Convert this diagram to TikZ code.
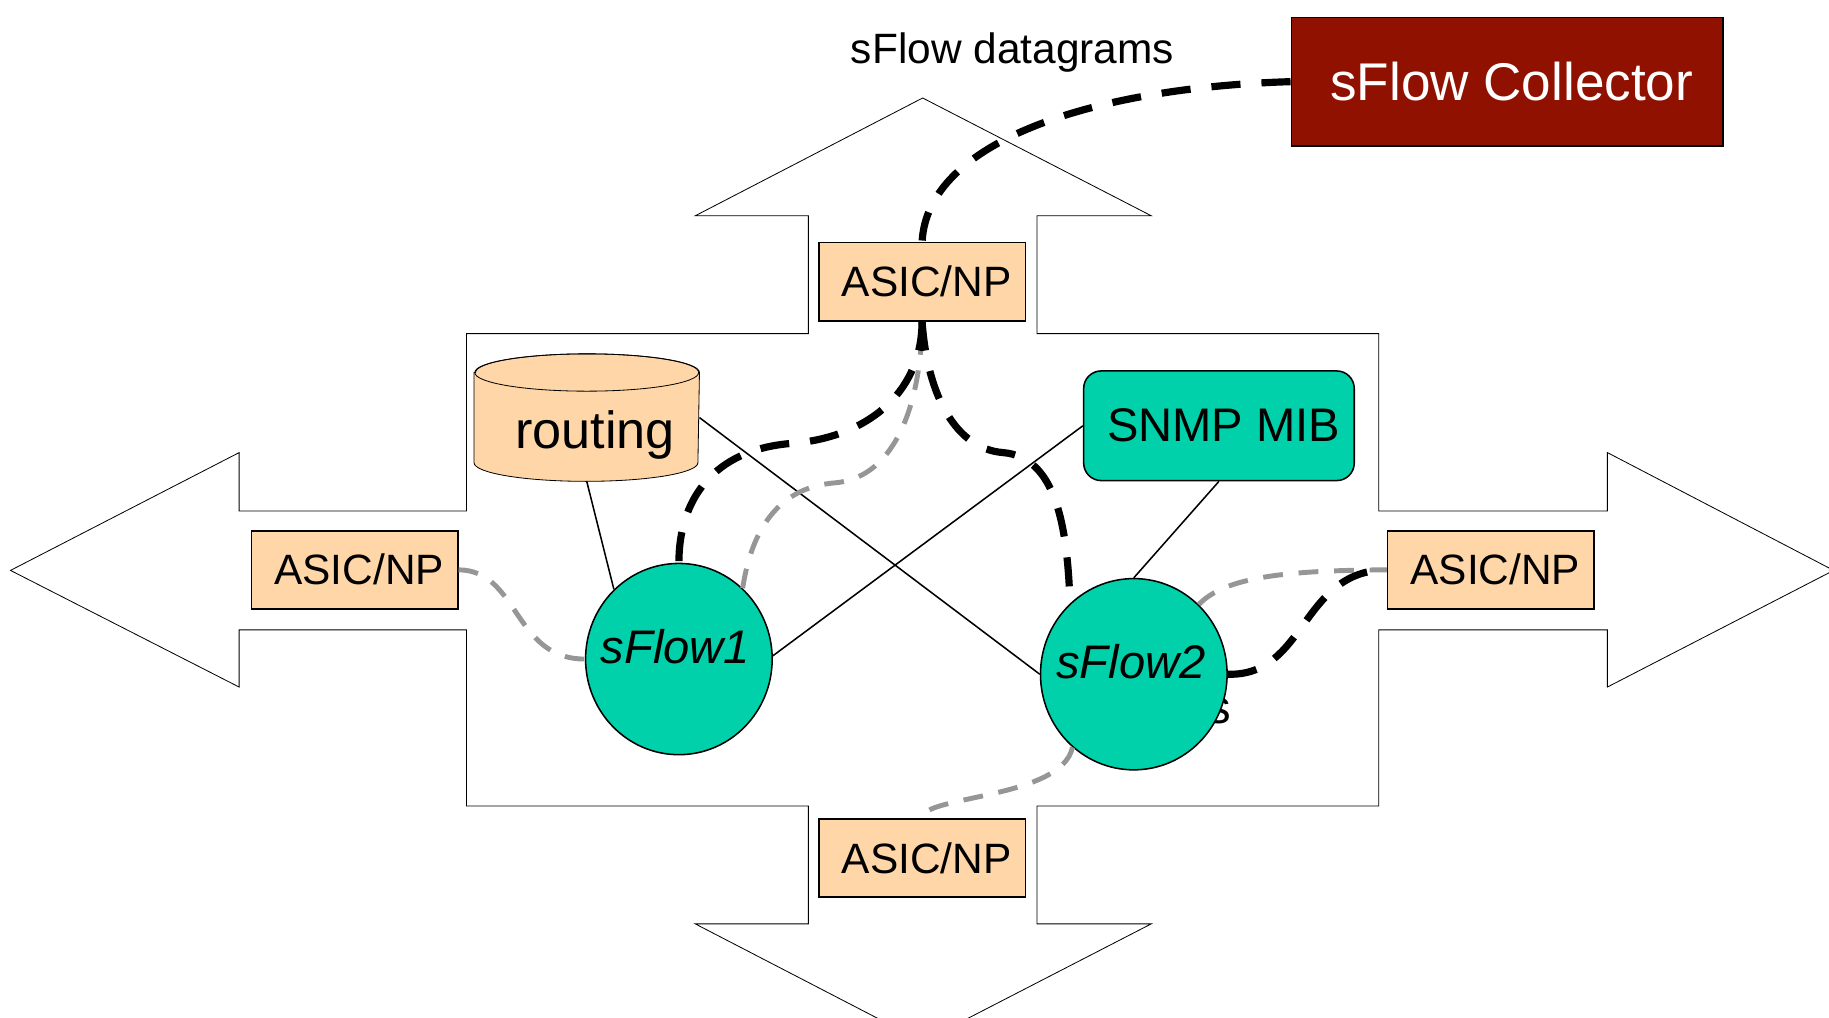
\documentclass[tikz,border=0pt]{standalone}
\usepackage{fontspec}
\setmainfont{Liberation Sans}
\usetikzlibrary{shapes.geometric, backgrounds}
\definecolor{asicpeach}{RGB}{255,214,168}
\definecolor{agentgreen}{RGB}{0,209,171}
\definecolor{collectred}{RGB}{145,17,0}
\definecolor{samplegray}{RGB}{150,150,150}

\begin{document}
\begin{tikzpicture}[x=0.02cm, y=-0.02cm, line width=0.75pt,
    asic/.style={rectangle, draw=black, fill=asicpeach, minimum width=3.54cm, minimum height=1.34cm, inner sep=0pt, font=\fontsize{20.7}{24}\selectfont},
    agent/.style={ellipse, draw=black, fill=agentgreen, minimum width=3.2cm, minimum height=3.28cm, inner sep=0pt, text depth=0.45cm, font=\fontsize{23}{27}\selectfont\itshape},
    drum/.style={draw=black, fill=asicpeach},
    link/.style={black, line width=0.75pt},
    datagram/.style={black, line width=3.5pt, dash pattern=on 0.5cm off 0.36cm},
    sample/.style={samplegray, line width=2.4pt, dash pattern=on 0.34cm off 0.27cm}
]
\useasboundingbox (0,0) rectangle (1568,872);

% Collector and label
\node[rectangle, draw=black, fill=collectred, text=white, minimum width=7.4cm, minimum height=2.2cm, font=\fontsize{25.9}{30}\selectfont] (collector) at (1292,70) {\hspace*{0.16cm}sFlow Collector};
\node[font=\fontsize{20.7}{24}\selectfont] (datagrams) at (868,45) {sFlow datagrams};

% Line cards
\node[asic] (asicN) at (790.5,241.5) {\hspace*{0.16cm}ASIC/NP};
\node[asic] (asicW) at (304,488.5) {\hspace*{0.16cm}ASIC/NP};
\node[asic] (asicE) at (1278,488.5) {\hspace*{0.16cm}ASIC/NP};
\node[asic] (asicS) at (790.5,735.5) {\hspace*{0.16cm}ASIC/NP};

% Routing table and MIB
\node[minimum width=3.84cm, minimum height=2.16cm, inner sep=0pt, text height=1.23cm, font=\fontsize{25.5}{30}\selectfont] (routing) at (503,358) {\hspace*{0.28cm}routing};
\node[rectangle, rounded corners=0.3cm, draw=black, fill=agentgreen, minimum width=4.64cm, minimum height=1.88cm, font=\fontsize{23}{27}\selectfont] (mib) at (1045,365) {\hspace*{0.16cm}SNMP MIB};

% Agents
\node[font=\fontsize{23}{27}\selectfont] (trail) at (1045,610) {s};
\node[agent] (sflow1) at (582,565) {\makebox[0pt]{\hspace*{-0.12cm}sFlow1}};
\node[agent] (sflow2) at (972,578) {\makebox[0pt]{\hspace*{-0.1cm}sFlow2}};

\begin{scope}[on background layer]
\clip (0,0) rectangle (1568,872);
% Switch outline
\draw (9,489) -- (205,388) -- (205,438) -- (400,438) -- (400,286) -- (693,286) -- (693,185) -- (596,185) -- (791,84) -- (987,185) -- (889,185) -- (889,286) -- (1182,286) -- (1182,438) -- (1378,438) -- (1378,388) -- (1572,489) -- (1378,589) -- (1378,540) -- (1182,540) -- (1182,691) -- (889,691) -- (889,792) -- (987,792) -- (791,893) -- (596,792) -- (693,792) -- (693,691) -- (400,691) -- (400,540) -- (205,540) -- (205,589) -- cycle;
% Routing cylinder
\filldraw[drum] ([yshift=-3.2mm]routing.north west) -- ([yshift=3.2mm]routing.south west)
    arc[start angle=180, end angle=360, x radius=1.92cm, y radius=3.2mm]
    -- ([yshift=-3.2mm]routing.north east)
    arc[start angle=0, end angle=180, x radius=1.92cm, y radius=3.2mm] -- cycle;
\draw ([yshift=-3.2mm]routing.north) ellipse[x radius=1.92cm, y radius=3.2mm];
\end{scope}

% Links
\draw[link] (routing.south) -- (sflow1.133);
\draw[link] (routing.east) -- (sflow2.west);
\draw[link] (mib.west) -- (sflow1.2);
\draw[link] (mib.south) -- (sflow2.north);

% Sampling paths
\draw[sample] (asicW.east) .. controls (445,489) and (440,565) .. (sflow1.west);
\draw[sample] (sflow1.48) .. controls (645,450) and (670,418) .. (715,414) .. controls (770,410) and (790,340) .. (asicN.south);
\draw[sample] (sflow2.47) .. controls (1050,495) and (1100,489) .. (asicE.west);
\draw[sample] (sflow2.230) .. controls (910,685) and (790,682) .. (asicS.north);

% Datagram paths
\draw[datagram] (collector.west) .. controls (940,75) and (795,120) .. (asicN.north);
\draw[datagram] (asicN.south) .. controls (790,340) and (740,375) .. (680,380) .. controls (610,385) and (582,430) .. (sflow1.north);
\draw[datagram] (asicN.south) .. controls (795,340) and (820,385) .. (860,388) .. controls (905,392) and (915,450) .. (sflow2.132);
\draw[datagram] (sflow2.east) .. controls (1120,580) and (1115,489) .. (asicE.west);
\end{tikzpicture}
\end{document}
